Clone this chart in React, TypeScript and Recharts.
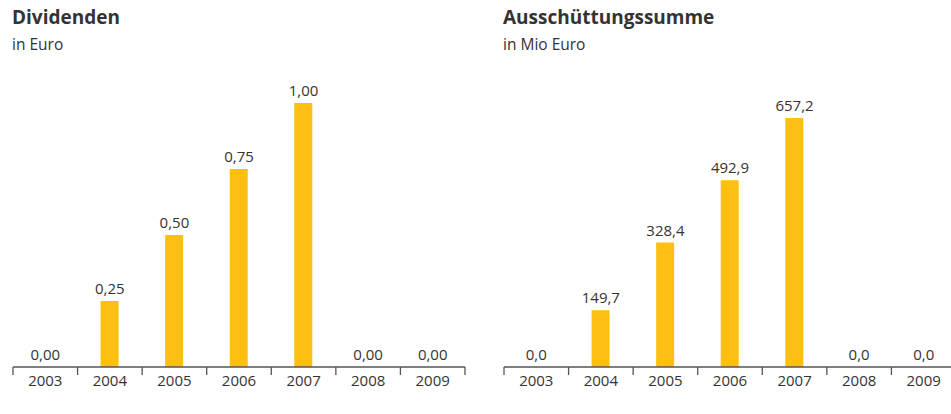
import React from 'react';
import { ComposedChart, Bar, Line, XAxis, YAxis, LabelList } from 'recharts';

const years = ['2003', '2004', '2005', '2006', '2007', '2008', '2009'];
const dividends = [0, 0.25, 0.5, 0.75, 1.0, 0, 0];
const payouts = [0, 149.7, 328.4, 492.9, 657.2, 0, 0];

const BAR_COLOR = '#fcbf12';
const TEXT_COLOR = '#333333';
const AXIS_COLOR = '#555555';
const FONT = '"Open Sans", "Noto Sans", sans-serif';

const CHART_W = 480;
const MARGIN = { top: 103, right: 15, bottom: 17, left: 13 };
const BAND = (CHART_W - MARGIN.left - MARGIN.right) / years.length;
const TICK_MARGIN = 8;

type PanelProps = {
  title: string;
  unit: string;
  values: number[];
  decimals: number;
  yMax: number;
  left: number;
};

const fmt = (decimals: number) => (v: any) =>
  Number(v).toFixed(decimals).replace('.', ',');

const YearTick = (props: any) => {
  const { x, y, payload, index } = props;
  const top = y - TICK_MARGIN;
  return (
    <g>
      <line x1={x - BAND / 2} x2={x - BAND / 2} y1={top} y2={top + 8} stroke={AXIS_COLOR} strokeWidth={1.3} />
      {index === years.length - 1 && (
        <line x1={x + BAND / 2} x2={x + BAND / 2} y1={top} y2={top + 8} stroke={AXIS_COLOR} strokeWidth={1.3} />
      )}
      <text
        x={x}
        y={y}
        dy="0.75em"
        textAnchor="middle"
        fill={TEXT_COLOR}
        fontSize={15}
        fontFamily={FONT}
      >
        {payload.value}
      </text>
    </g>
  );
};

const Panel: React.FC<PanelProps> = ({ title, unit, values, decimals, yMax, left }) => {
  const data = years.map((year, i) => ({ year, value: values[i] }));
  return (
    <div style={{ position: 'absolute', left, top: 0, width: CHART_W, height: 414 }}>
      <div
        style={{
          position: 'absolute',
          left: 12,
          top: 4,
          fontFamily: FONT,
          fontWeight: 700,
          fontSize: 19,
          color: TEXT_COLOR,
          whiteSpace: 'nowrap',
        }}
      >
        {title}
      </div>
      <div
        style={{
          position: 'absolute',
          left: 12,
          top: 33,
          fontFamily: FONT,
          fontSize: 15.5,
          color: TEXT_COLOR,
          whiteSpace: 'nowrap',
        }}
      >
        {unit}
      </div>
      <ComposedChart
        width={CHART_W}
        height={414}
        data={data}
        margin={MARGIN}
        style={{ position: 'absolute', left: 0, top: 0 }}
      >
        <YAxis hide domain={[0, yMax]} />
        <XAxis
          dataKey="year"
          tickLine={false}
          tickSize={0}
          tickMargin={TICK_MARGIN}
          axisLine={{ stroke: AXIS_COLOR, strokeWidth: 1.5 }}
          tick={<YearTick />}
          interval={0}
          height={30}
        />
        <Bar dataKey="value" fill={BAR_COLOR} barSize={18} isAnimationActive={false} />
        <Line
          dataKey="value"
          stroke="none"
          dot={false}
          activeDot={false}
          isAnimationActive={false}
        >
          <LabelList
            dataKey="value"
            position="top"
            offset={7}
            formatter={fmt(decimals)}
            style={{ fill: TEXT_COLOR, fontSize: 15, fontFamily: FONT }}
          />
        </Line>
      </ComposedChart>
    </div>
  );
};

export default function App() {
  return (
    <div
      style={{
        position: 'absolute',
        left: 0,
        top: 0,
        width: 951,
        height: 414,
        overflow: 'hidden',
        background: '#ffffff',
      }}
    >
      <Panel title="Dividenden" unit="in Euro" values={dividends} decimals={2} yMax={1} left={0} />
      <Panel
        title="Ausschüttungssumme"
        unit="in Mio Euro"
        values={payouts}
        decimals={1}
        yMax={697}
        left={491}
      />
    </div>
  );
}
